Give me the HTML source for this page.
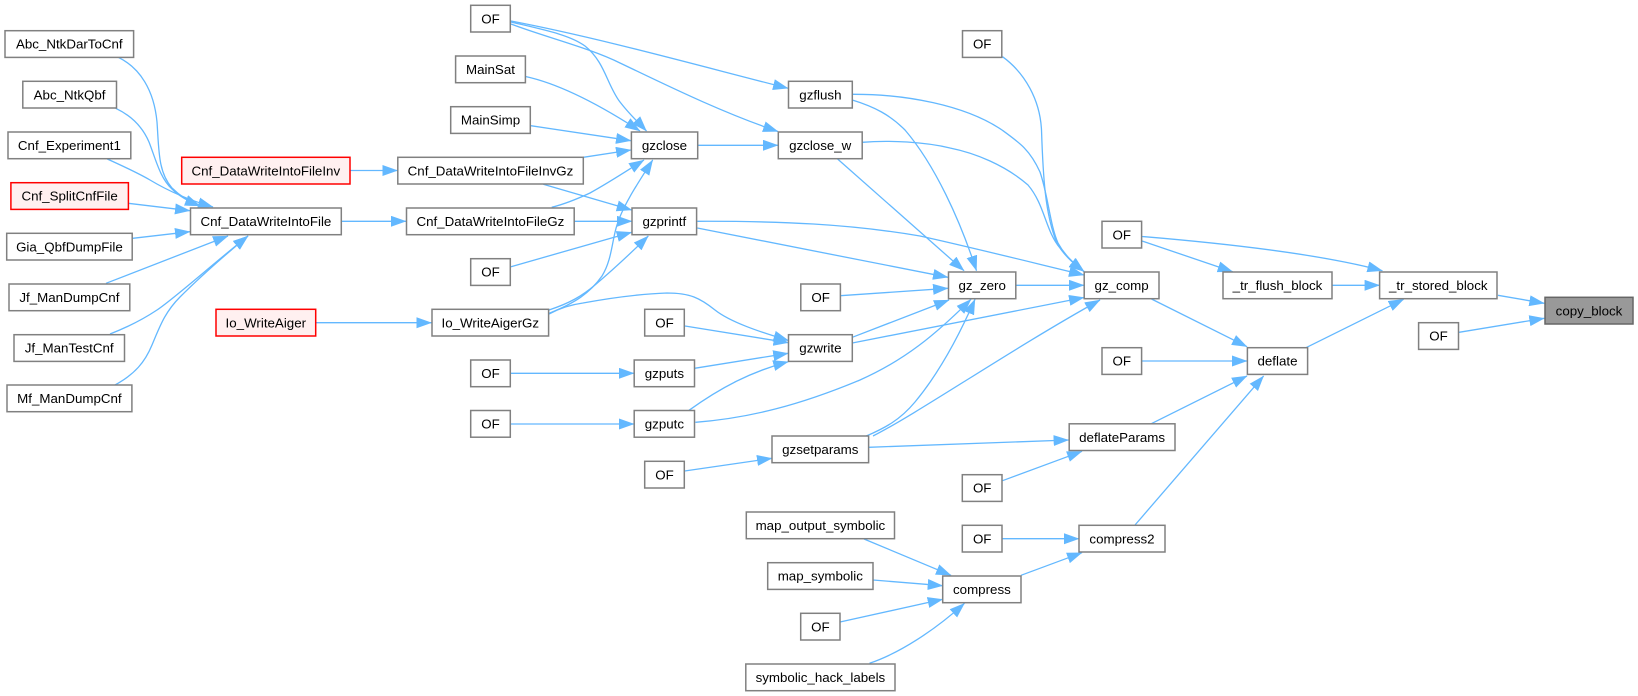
<!DOCTYPE html>
<html><head><meta charset="utf-8"><style>
html,body{margin:0;padding:0;background:#fff;width:1638px;height:696px;overflow:hidden}
svg{display:block}
.e path{fill:none;stroke:#63b8ff;stroke-width:1.3;marker-end:url(#a)}
rect{fill:#fff;stroke:#808080;stroke-width:1.5}
rect.r{fill:#fff0f0;stroke:#ff0000}
rect.g{fill:#999999;stroke:#666666}
text{font-family:"Liberation Sans",sans-serif;font-size:13.33px;text-anchor:middle;fill:#000}
</style></head><body>
<svg width="1638" height="696" viewBox="0 0 1638 696" xmlns="http://www.w3.org/2000/svg">
<defs><marker id="a" markerUnits="userSpaceOnUse" markerWidth="17" markerHeight="12" refX="15" refY="5.5" orient="auto"><path d="M0,0 L15.5,5.5 L0,11 z" fill="#63b8ff"/></marker></defs>
<g class="e">
<path d="M118.3,57.3 C140,68 154,90 157,122 C159,150 158,172 172,188 C180,196 190,202 200,206"/>
<path d="M115.7,108.3 C132,116 143,128 149,142 C156,160 160,178 172,189 C180,197 190,202 200,206"/>
<path d="M107.3,159 C125,167 138,173 150,180 C165,189 185,199 213,207"/>
<path d="M128.3,203.3 L190,210.7"/>
<path d="M132.7,238.3 L190,231.7"/>
<path d="M106,283.3 L228,236"/>
<path d="M110,334 C128,327 142,320 157,310 C175,298 215,262 248,236"/>
<path d="M115,385 C135,374 145,362 152,345 C160,326 165,312 180,297 C200,277 225,255 248,236"/>
<path d="M350,170.5 L397.5,170.5"/>
<path d="M341.5,221.3 L406,221.3"/>
<path d="M316,322.7 L431.5,322.7"/>
<path d="M511,21 C600,38 700,66 788,88.3"/>
<path d="M511,24 C545,37 590,48 620,63 C660,82 720,112 778,131.5"/>
<path d="M511,22 C545,30 570,35 585,46 C605,62 607,85 620,102 C630,115 638,122 646.5,131"/>
<path d="M525.5,76.5 C560,84 600,105 640,131"/>
<path d="M530.7,125.7 L631,140.7"/>
<path d="M583.3,157.3 L631,150"/>
<path d="M543.3,184.3 C570,192 600,201 631.7,210"/>
<path d="M551.7,207.3 C565,204 575,200 590,193 C610,182 628,170 644,160"/>
<path d="M574.5,221.3 L632,221.3"/>
<path d="M511,266.7 L631.7,232.3"/>
<path d="M549,313.3 C575,303 590,293 602,276 C612,260 612,240 617,225 C623,205 640,180 652.7,160"/>
<path d="M549,310 C570,303 582,296 595,285 C615,268 632,252 648.3,236"/>
<path d="M549,314 C560,308 572,304.5 583,303 C610,298 640,294 667,293 C690,293 700,298 715,310 C730,322 760,332 788.5,340.5"/>
<path d="M698,145.3 L778,145.3"/>
<path d="M852.3,100 C875,107 890,115 905,130 C935,165 960,220 976.5,270.7"/>
<path d="M852.3,94.3 C905,94 965,105 1002,130 C1020,143 1030,150 1040,172 C1048,195 1050,225 1058,243 C1064,254 1072,262 1084,271.5"/>
<path d="M837.6,159 L964,270.7"/>
<path d="M862.2,142.3 C890,140 925,142 950,148 C975,153 1005,165 1028,185 C1045,205 1045,230 1060,248 C1067,258 1075,265 1084,271.5"/>
<path d="M1002.5,56.7 C1025,73 1040,100 1041.5,130 C1043,175 1045,215 1057,243 C1063,254 1072,262 1084,271.5"/>
<path d="M697.3,221.3 C780,221 850,224 920,236 C970,247 1030,262 1084,275"/>
<path d="M697.3,228 L948,277.3"/>
<path d="M840.4,295.7 L948,288.3"/>
<path d="M1016,285.3 L1084,285.3"/>
<path d="M852.3,337.3 L949,300"/>
<path d="M852.3,343 L1084,297.5"/>
<path d="M695.4,422.3 C750,418 800,405 860,380 C905,360 935,335 971,299.3"/>
<path d="M866.3,436 C885,428 900,420 915,402 C935,378 955,345 975,299.3"/>
<path d="M873,436 C920,412 1010,350 1100,300"/>
<path d="M868.6,447.3 L1068.6,440"/>
<path d="M685,326 L788.5,342.7"/>
<path d="M510.5,373.3 L634,373.3"/>
<path d="M510.5,424 L634,424"/>
<path d="M694.5,368.3 L788.2,353.3"/>
<path d="M689,410.3 C720,388 750,372 788.2,361.7"/>
<path d="M684.6,471 L772,458.3"/>
<path d="M1142,236.5 C1220,243 1320,254 1382.4,270.7"/>
<path d="M1142,241 L1232.7,271.7"/>
<path d="M1332,285.3 L1379.6,285.3"/>
<path d="M1498,295.3 L1544.3,303.3"/>
<path d="M1459,332.3 L1544.3,318.3"/>
<path d="M1151.5,299 L1247,346.7"/>
<path d="M1306,347.7 L1403.6,299.3"/>
<path d="M1141.6,361 L1247,361"/>
<path d="M1151.3,423.7 L1247,376"/>
<path d="M1135,525 L1263.6,376"/>
<path d="M1002.5,480.7 L1082,451.3"/>
<path d="M1002,538.7 L1079,538.7"/>
<path d="M1021,575.3 L1082,552.7"/>
<path d="M864,539 L951,575.3"/>
<path d="M873,580 L942.7,585.7"/>
<path d="M840,622 L942.7,599.3"/>
<path d="M869.5,663.3 C900,653 935,630 964.5,603.3"/>
</g>
<g>
<rect x="5" y="30.7" width="128.6" height="26.7"/><text x="69.3" y="48.7">Abc_NtkDarToCnf</text>
<rect x="22.8" y="81.3" width="93.7" height="26.7"/><text x="69.6" y="99.3">Abc_NtkQbf</text>
<rect x="8" y="132" width="122.8" height="26.7"/><text x="69.4" y="150">Cnf_Experiment1</text>
<rect class="r" x="10.9" y="182.7" width="117.5" height="26.7"/><text x="69.6" y="200.7">Cnf_SplitCnfFile</text>
<rect x="6.7" y="233.3" width="125.5" height="26.7"/><text x="69.4" y="251.3">Gia_QbfDumpFile</text>
<rect x="9" y="284" width="120.8" height="26.7"/><text x="69.4" y="302">Jf_ManDumpCnf</text>
<rect x="14" y="334.7" width="110.5" height="26.7"/><text x="69.2" y="352.7">Jf_ManTestCnf</text>
<rect x="7" y="385" width="124.9" height="26.7"/><text x="69.4" y="403">Mf_ManDumpCnf</text>
<rect class="r" x="181.7" y="157.3" width="168.3" height="26.7"/><text x="265.8" y="175.3">Cnf_DataWriteIntoFileInv</text>
<rect x="190.5" y="208" width="150.8" height="26.7"/><text x="265.9" y="226">Cnf_DataWriteIntoFile</text>
<rect class="r" x="216" y="309.3" width="99.7" height="26.7"/><text x="265.8" y="327.3">Io_WriteAiger</text>
<rect x="470.7" y="5.3" width="39.6" height="26.7"/><text x="490.5" y="23.3">OF</text>
<rect x="455.6" y="56" width="69.8" height="26.7"/><text x="490.5" y="74">MainSat</text>
<rect x="450.7" y="106.7" width="79.6" height="26.7"/><text x="490.5" y="124.7">MainSimp</text>
<rect x="397.8" y="157.3" width="185.5" height="26.7"/><text x="490.5" y="175.3">Cnf_DataWriteIntoFileInvGz</text>
<rect x="406.5" y="208" width="167.7" height="26.7"/><text x="490.4" y="226">Cnf_DataWriteIntoFileGz</text>
<rect x="470.7" y="258.7" width="39.6" height="26.7"/><text x="490.5" y="276.7">OF</text>
<rect x="432" y="309.3" width="116.6" height="26.7"/><text x="490.3" y="327.3">Io_WriteAigerGz</text>
<rect x="470.7" y="360" width="39.6" height="26.7"/><text x="490.5" y="378">OF</text>
<rect x="470.7" y="410.5" width="39.6" height="26.7"/><text x="490.5" y="428.5">OF</text>
<rect x="631.4" y="132" width="66.3" height="26.7"/><text x="664.5" y="150">gzclose</text>
<rect x="632" y="208" width="64.6" height="26.7"/><text x="664.3" y="226">gzprintf</text>
<rect x="644.7" y="309.3" width="39.6" height="26.7"/><text x="664.5" y="327.3">OF</text>
<rect x="634.2" y="360" width="60.3" height="26.7"/><text x="664.4" y="378">gzputs</text>
<rect x="634.2" y="410.5" width="60.3" height="26.7"/><text x="664.4" y="428.5">gzputc</text>
<rect x="644.7" y="461.3" width="39.6" height="26.7"/><text x="664.5" y="479.3">OF</text>
<rect x="788.5" y="81.3" width="63.8" height="26.7"/><text x="820.4" y="99.3">gzflush</text>
<rect x="778.3" y="132" width="83.9" height="26.7"/><text x="820.2" y="150">gzclose_w</text>
<rect x="800.8" y="284" width="39.6" height="26.7"/><text x="820.6" y="302">OF</text>
<rect x="788.5" y="334.7" width="63.8" height="26.7"/><text x="820.4" y="352.7">gzwrite</text>
<rect x="772" y="436" width="96.6" height="26.7"/><text x="820.3" y="454">gzsetparams</text>
<rect x="746.3" y="512" width="148.2" height="26.7"/><text x="820.4" y="530">map_output_symbolic</text>
<rect x="767.7" y="562.7" width="105.3" height="26.7"/><text x="820.3" y="580.7">map_symbolic</text>
<rect x="800.7" y="613.3" width="39.3" height="26.7"/><text x="820.4" y="631.3">OF</text>
<rect x="745.8" y="664" width="149.2" height="26.7"/><text x="820.4" y="682">symbolic_hack_labels</text>
<rect x="962.5" y="30.7" width="39.3" height="26.7"/><text x="982.2" y="48.7">OF</text>
<rect x="948.5" y="272" width="67.3" height="26.7"/><text x="982.2" y="290">gz_zero</text>
<rect x="962.3" y="474.7" width="39.7" height="26.7"/><text x="982.2" y="492.7">OF</text>
<rect x="962.3" y="525.3" width="39.7" height="26.7"/><text x="982.2" y="543.3">OF</text>
<rect x="942.7" y="576" width="78.3" height="26.7"/><text x="981.9" y="594">compress</text>
<rect x="1084.2" y="272" width="74.8" height="26.7"/><text x="1121.6" y="290">gz_comp</text>
<rect x="1102" y="221.3" width="39.6" height="26.7"/><text x="1121.8" y="239.3">OF</text>
<rect x="1102" y="347.7" width="39.6" height="26.7"/><text x="1121.8" y="365.7">OF</text>
<rect x="1069.2" y="423.8" width="105.8" height="26.7"/><text x="1122.1" y="441.8">deflateParams</text>
<rect x="1079" y="525.3" width="86" height="26.7"/><text x="1122" y="543.3">compress2</text>
<rect x="1223" y="272" width="109" height="26.7"/><text x="1277.5" y="290">_tr_flush_block</text>
<rect x="1247.4" y="347.7" width="60.2" height="26.7"/><text x="1277.5" y="365.7">deflate</text>
<rect x="1379.6" y="272" width="117.4" height="26.7"/><text x="1438.3" y="290">_tr_stored_block</text>
<rect x="1418.6" y="322.7" width="39.9" height="26.7"/><text x="1438.5" y="340.7">OF</text>
<rect class="g" x="1545" y="297.3" width="88" height="26.7"/><text x="1589" y="315.3">copy_block</text>
</g>
</svg>
</body></html>
